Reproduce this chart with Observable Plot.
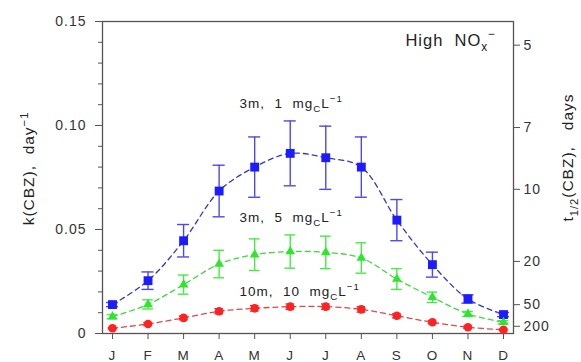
<!DOCTYPE html>
<html>
<head>
<meta charset="utf-8">
<script src="https://cdn.jsdelivr.net/npm/d3@7"></script>
<script src="https://cdn.jsdelivr.net/npm/@observablehq/plot@0.6"></script>
<style>
  html, body { margin: 0; padding: 0; background: #fff; }
  #chart svg { display: block; font-family: "Liberation Sans", Arial, sans-serif; }
  #chart svg text { white-space: pre; letter-spacing: 1px; }
</style>
</head>
<body>
<div id="chart"></div>
<script>
const months = ["J","F","M","A","M","J","J","A","S","O","N","D"];
const monthNums = [1,2,3,4,5,6,7,8,9,10,11,12];
const leftTicks = [0, 0.05, 0.10, 0.15];
const halfLifeTicks = [5, 7, 10, 20, 50, 200];

const blueK   = [0.0139,0.0254,0.0446,0.0685,0.0800,0.0866,0.0845,0.0800,0.0545,0.0331,0.0166,0.0091];
const blueErr = [0.0010,0.0042,0.0078,0.0124,0.0145,0.0156,0.0152,0.0145,0.0099,0.0060,0.0020,0.0010];
const greenK   = [0.0081,0.0140,0.0235,0.0334,0.0379,0.0394,0.0390,0.0363,0.0262,0.0174,0.0094,0.0054];
const greenErr = [0.0010,0.0022,0.0046,0.0066,0.0076,0.0080,0.0078,0.0073,0.0050,0.0025,0.0012,0.0008];
const redK   = [0.0025,0.0046,0.0075,0.0107,0.0121,0.0129,0.0129,0.0116,0.0085,0.0054,0.0030,0.0018];
const redErr = [0.0004,0.0007,0.0009,0.0012,0.0013,0.0013,0.0013,0.0013,0.0010,0.0007,0.0005,0.0004];

const seriesLabels = ["3m,  1  mg_{C}L^{-1}", "3m,  5  mg_{C}L^{-1}", "10m,  10  mg_{C}L^{-1}"];
const labelPos = [{x: 4.57, y: 0.1106}, {x: 4.57, y: 0.0558}, {x: 4.57, y: 0.0202}];

function rows(k, err) {
  return monthNums.map((m, i) => ({m, k: k[i], lo: k[i] - err[i], hi: k[i] + err[i]}));
}
const blue = rows(blueK, blueErr), green = rows(greenK, greenErr), red = rows(redK, redErr);

const styles = [
  {data: blue,  line: "#3535c8", bar: "#4a4ae8", fill: "#1c1cff", symbol: "square",   r: 5.0, cap: 0.17},
  {data: green, line: "#3ed83e", bar: "#44ec44", fill: "#2ee62e", symbol: "triangle", r: 3.6, cap: 0.15},
  {data: red,   line: "#e04848", bar: "#f03030", fill: "#ff2222", symbol: "circle",   r: 4.3, cap: 0.12}
];

const marks = [];
marks.push(Plot.axisY({ticks: d3.range(0, 0.1501, 0.01), tickSize: 4, text: null, stroke: "#555"}));
marks.push(Plot.axisY({ticks: leftTicks, tickSize: 7, tickPadding: 9, fontSize: 14, stroke: "#555",
  fill: "#333", tickFormat: d => d === 0 ? "0" : d.toFixed(2), label: null}));
marks.push(Plot.axisY({anchor: "right", ticks: halfLifeTicks.map(t => Math.LN2 / t), tickSize: 6,
  tickPadding: 4, fontSize: 14, stroke: "#555", fill: "#333",
  tickFormat: d => String(Math.round(Math.LN2 / d)), label: null}));
marks.push(Plot.axisX({ticks: monthNums, tickSize: 6, tickPadding: 11, fontSize: 13.5, stroke: "#555",
  fill: "#333", tickFormat: d => months[d - 1], label: null}));
marks.push(Plot.frame({stroke: "#555", strokeWidth: 1.3}));

for (const s of styles) {
  marks.push(Plot.line(s.data, {x: "m", y: "k", stroke: s.line, strokeWidth: 1.3,
    strokeDasharray: "5,4", curve: "catmull-rom"}));
  marks.push(Plot.ruleX(s.data, {x: "m", y1: "lo", y2: "hi", stroke: s.bar, strokeWidth: 1.4}));
  marks.push(Plot.ruleY(s.data, {y: "hi", x1: d => d.m - s.cap, x2: d => d.m + s.cap, stroke: s.bar, strokeWidth: 1.4}));
  marks.push(Plot.ruleY(s.data, {y: "lo", x1: d => d.m - s.cap, x2: d => d.m + s.cap, stroke: s.bar, strokeWidth: 1.4}));
}
for (const s of styles) {
  marks.push(Plot.dot(s.data, {x: "m", y: "k", symbol: s.symbol, r: s.r, fill: s.fill, stroke: "none"}));
}

marks.push(Plot.text(seriesLabels.map((t, i) => ({t, ...labelPos[i]})),
  {x: "x", y: "y", text: "t", textAnchor: "start", fontSize: 13.5, fill: "#222"}));
marks.push(Plot.text(["High  NO_{x}^{−}"], {x: 9.24, y: 0.1409, text: d => d, textAnchor: "start",
  fontSize: 16.5, fill: "#222"}));
marks.push(Plot.text(["k(CBZ),  day^{-1}"], {frameAnchor: "left", dx: -73, dy: -9, rotate: -90,
  textAnchor: "middle", text: d => d, fontSize: 15.5, fill: "#222"}));
marks.push(Plot.text(["t_{1/2}(CBZ),   days"], {frameAnchor: "right", dx: 55, dy: -20, rotate: -90,
  textAnchor: "middle", text: d => d, fontSize: 15.5, fill: "#222"}));

const chart = Plot.plot({
  width: 581,
  height: 362,
  marginLeft: 102,
  marginRight: 68,
  marginTop: 21,
  marginBottom: 29,
  style: {fontFamily: "'Liberation Sans', Arial, sans-serif", background: "#fff"},
  x: {type: "linear", domain: [0.719, 12.281]},
  y: {domain: [0, 0.15]},
  marks
});
document.getElementById("chart").appendChild(chart);

// rich text: _{..} subscript, ^{..} superscript
d3.select(chart).selectAll("text").each(function() {
  const el = this;
  const txt = el.textContent;
  if (!/[_^]\{/.test(txt)) return;
  const fs = parseFloat(getComputedStyle(el).fontSize) || 13;
  const parts = txt.split(/(_\{[^}]*\}|\^\{[^}]*\})/).filter(p => p !== "");
  el.textContent = "";
  let shift = 0;
  for (const p of parts) {
    const ts = d3.select(el).append("tspan");
    let target = 0, content = p, small = false;
    if (p.startsWith("_{")) { target = fs * 0.3; content = p.slice(2, -1); small = true; }
    else if (p.startsWith("^{")) { target = -fs * 0.45; content = p.slice(2, -1); small = true; }
    if (target - shift !== 0) ts.attr("dy", target - shift);
    shift = target;
    if (small) ts.attr("font-size", fs * 0.72);
    ts.text(content.replace(/-/g, "\u2212"));
  }
});
</script>
</body>
</html>
